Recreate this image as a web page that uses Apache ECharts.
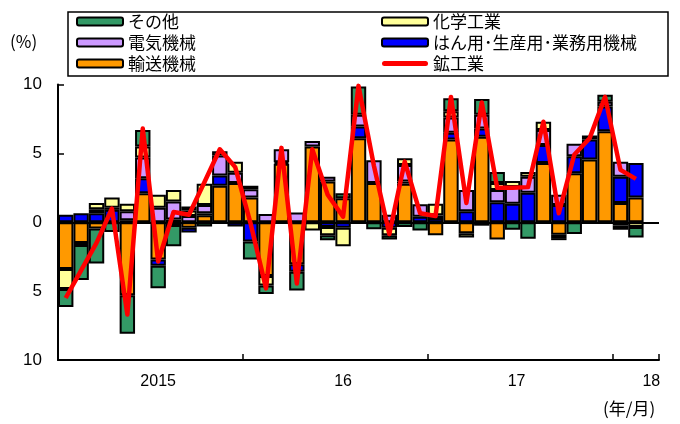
<!DOCTYPE html>
<html><head><meta charset="utf-8">
<script src="https://cdn.jsdelivr.net/npm/echarts@6/dist/echarts.min.js"></script>
<style>html,body{margin:0;padding:0;background:#fff}#c{width:680px;height:424px}</style>
</head><body><div id="c"></div>
<script>
const months = ['2015/1','2015/2','2015/3','2015/4','2015/5','2015/6','2015/7','2015/8','2015/9','2015/10','2015/11','2015/12',
'2016/1','2016/2','2016/3','2016/4','2016/5','2016/6','2016/7','2016/8','2016/9','2016/10','2016/11','2016/12',
'2017/1','2017/2','2017/3','2017/4','2017/5','2017/6','2017/7','2017/8','2017/9','2017/10','2017/11','2017/12',
'2018/1','2018/2','2018/3'];
const yearTickLabels = {'2015/7':'2015','2016/7':'16','2017/6':'17','2018/3':'18'};

const transport = [-3.4,-1.5,-0.45,null,-5.3,2.1,-2.7,0.2,-0.4,0.5,2.65,2.85,
 1.8,-3.9,4.25,-3.05,5.5,2.95,1.75,6.1,2.85,null,2.8,null,
 -0.95,6.0,-0.8,6.2,-1.25,null,null,4.3,-0.9,3.55,4.55,6.6,
 1.4,1.8,null];
const generalMach = [0.55,0.65,0.65,0.9,0.15,1.1,-0.45,-0.2,-0.35,0.15,0.75,-0.3,
 -1.4,null,0.1,-0.55,null,-0.35,-0.4,0.85,null,-0.4,0.15,0.4,
 0.3,0.5,0.8,0.6,1.45,1.35,2.15,1.3,1.25,1.25,1.45,1.8,
 1.9,2.5,null];
const electrical = [null,null,0.3,0.15,0.65,1.5,1.05,1.3,0.45,0.6,1.45,0.75,
 0.6,0.6,0.95,0.7,0.4,0.35,null,0.85,1.65,0.55,1.2,0.9,
 0.2,1.1,1.55,1.0,0.9,1.2,1.15,1.1,0.75,0.9,0.3,0.35,
 1.1,null,null];
const chemicals = [-1.45,-0.15,0.45,0.75,0.55,0.8,0.95,0.85,0.4,1.55,null,0.8,
 0.25,-0.7,null,null,-0.6,-0.6,-1.35,null,null,-0.55,0.5,null,
 0.85,0.45,-0.3,-0.25,0.5,0.45,0.35,0.6,-0.25,null,null,null,
 -0.25,-0.35,null];
const others = [-1.3,-2.55,-2.55,-0.7,-2.8,1.2,-1.65,-1.55,0.3,-0.3,0.3,null,
 -1.3,-0.6,null,-1.35,null,-0.35,0.35,2.05,-0.5,-0.3,-0.35,-0.6,
 null,0.95,null,1.15,0.8,-0.55,-1.2,null,-0.15,-0.85,null,0.5,
 -0.3,-0.75,null];
const mining = [-5.5,-3.5,-1.5,1.0,-6.7,6.8,-2.85,0.75,0.55,2.9,5.3,4.0,
 -0.1,-4.8,5.4,-4.45,5.3,2.0,0.4,9.9,4.1,-0.85,4.4,0.65,
 0.45,9.1,1.4,8.7,2.5,2.5,2.55,7.3,0.65,4.9,6.1,9.1,
 3.8,3.15,null];

const FONT = '"Liberation Sans", "Noto Sans CJK JP", sans-serif';
const JFONT = '"Noto Sans CJK JP", "Liberation Sans", sans-serif';
const LINE_ICON = 'path://M2.5,0 L43.5,0 A2.5,2.5 0 0 1 43.5,5 L2.5,5 A2.5,2.5 0 0 1 2.5,0 Z';

function barSeries(name, data, color, extra) {
  return Object.assign({
    name, type: 'bar', stack: 'total', data,
    barCategoryGap: '0%',
    itemStyle: { color, borderColor: '#000', borderWidth: 2 },
    emphasis: { disabled: true }
  }, extra || {});
}
const boxed = { borderColor: '#000', borderWidth: 2 };

const chart = echarts.init(document.getElementById('c'), null, { renderer: 'canvas' });
chart.setOption({
  animation: false,
  backgroundColor: '#fff',
  textStyle: { fontFamily: FONT },
  grid: { left: 58, right: 21, top: 84.5, bottom: 64, containLabel: false },
  legend: [
    { left: 76, top: 13, orient: 'vertical', itemGap: 4, itemWidth: 46, itemHeight: 8,
      selectedMode: false, padding: 0,
      textStyle: { fontSize: 17, color: '#000', fontFamily: JFONT },
      itemStyle: boxed,
      data: ['その他', '電気機械', '輸送機械'] },
    { left: 381, top: 13, orient: 'vertical', itemGap: 4, itemWidth: 46, itemHeight: 8,
      selectedMode: false, padding: 0,
      textStyle: { fontSize: 17, color: '#000', fontFamily: JFONT },
      data: [{ name: '化学工業', itemStyle: boxed },
             { name: 'はん用･生産用･業務用機械', itemStyle: boxed },
             { name: '鉱工業', icon: LINE_ICON, itemStyle: { color: '#FF0000', borderWidth: 0 } }] }
  ],
  graphic: [
    { type: 'rect', shape: { x: 68, y: 12, width: 600, height: 64 },
      style: { fill: 'none', stroke: '#000', lineWidth: 1.5 }, silent: true, z: 10 },
    { type: 'text', left: 10, top: 33, style: { text: '(%)', font: '17px ' + JFONT, fill: '#000' } },
    { type: 'text', left: 603, top: 400, style: { text: '(年/月)', font: '17px ' + JFONT, fill: '#000' } }
  ],
  xAxis: {
    type: 'category', data: months, boundaryGap: true,
    axisLine: { onZero: false, lineStyle: { color: '#000', width: 2 } },
    axisTick: { show: true, inside: true, length: 6, lineStyle: { color: '#000', width: 1.5 },
      interval: (i) => i % 12 === 0 },
    axisLabel: { interval: 0, margin: 14, color: '#000', fontSize: 16, fontFamily: FONT,
      formatter: (v) => yearTickLabels[v] ? (v === '2017/6' ? '{s|' + yearTickLabels[v] + '}' : yearTickLabels[v]) : '',
      rich: { s: { padding: [0, 0, 0, 8], fontSize: 16, color: '#000', fontFamily: FONT } } },
    splitLine: { show: false }
  },
  yAxis: {
    type: 'value', min: -10, max: 10, interval: 5,
    axisLine: { show: true, lineStyle: { color: '#000', width: 2 } },
    axisTick: { show: true, inside: true, length: 6, lineStyle: { color: '#000', width: 1.5 } },
    axisLabel: { color: '#000', fontSize: 17, margin: 16, fontFamily: FONT,
      formatter: (v) => String(Math.abs(v)) },
    splitLine: { show: false }
  },
  series: [
    barSeries('輸送機械', transport, '#FF9900', {
      markLine: { silent: true, symbol: ['none', 'none'], label: { show: false },
        lineStyle: { color: '#000', width: 2, type: 'solid' }, data: [{ yAxis: 0 }] } }),
    barSeries('はん用･生産用･業務用機械', generalMach, '#0000FF'),
    barSeries('電気機械', electrical, '#CC99FF'),
    barSeries('化学工業', chemicals, '#FFFF99'),
    barSeries('その他', others, '#339966'),
    { name: '鉱工業', type: 'line', data: mining, symbol: 'none', z: 5,
      lineStyle: { color: '#FF0000', width: 4.5, join: 'round' }, itemStyle: { color: '#FF0000' },
      emphasis: { disabled: true } }
  ]
});
</script>
</body></html>
